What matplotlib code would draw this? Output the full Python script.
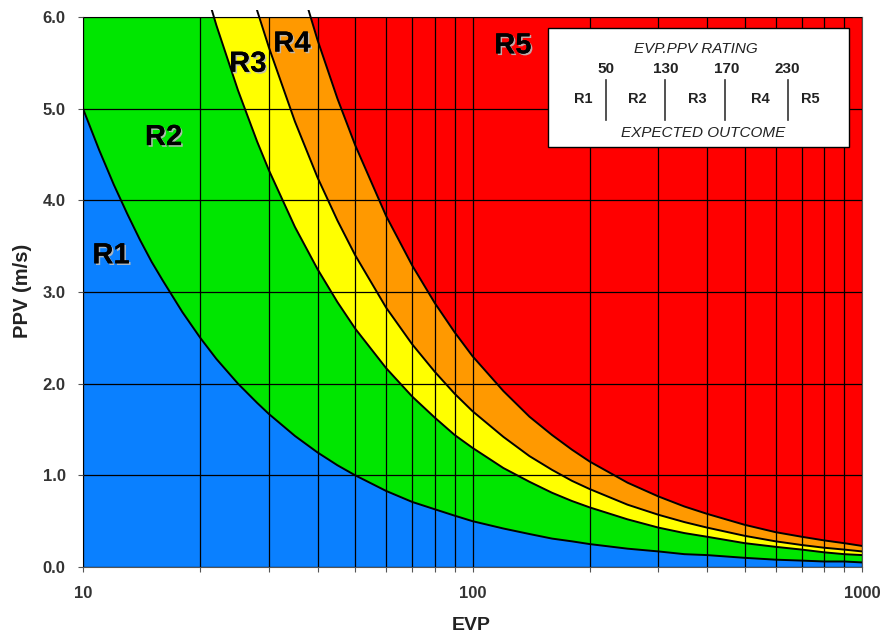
import matplotlib
matplotlib.use("Agg")
import matplotlib.pyplot as plt
import matplotlib.patheffects as pe
from matplotlib.patches import Rectangle
from matplotlib.ticker import FixedLocator, FixedFormatter, NullFormatter, FormatStrFormatter

plt.rcParams['font.family'] = ['Liberation Sans', 'DejaVu Sans']

# ---- data ----
evp = [10, 11, 12, 13, 14, 15, 16, 18, 20, 22, 25, 28, 30, 35, 40, 45, 50, 60, 70, 80, 90, 100,
       120, 140, 160, 180, 200, 250, 300, 350, 400, 500, 600, 700, 800, 900, 1000]
ppv_r50 = [5.0, 4.55, 4.17, 3.85, 3.57, 3.33, 3.13, 2.78, 2.5, 2.27, 2.0, 1.79, 1.67, 1.43, 1.25, 1.11,
           1.0, 0.83, 0.71, 0.63, 0.56, 0.5, 0.42, 0.36, 0.31, 0.28, 0.25, 0.2, 0.17, 0.14, 0.13,
           0.1, 0.08, 0.07, 0.06, 0.06, 0.05]
ppv_r130 = [13.0, 11.82, 10.83, 10.0, 9.29, 8.67, 8.13, 7.22, 6.5, 5.91, 5.2, 4.64, 4.33, 3.71, 3.25, 2.89,
            2.6, 2.17, 1.86, 1.63, 1.44, 1.3, 1.08, 0.93, 0.81, 0.72, 0.65, 0.52, 0.43, 0.37, 0.33,
            0.26, 0.22, 0.19, 0.16, 0.14, 0.13]
ppv_r170 = [17.0, 15.45, 14.17, 13.08, 12.14, 11.33, 10.63, 9.44, 8.5, 7.73, 6.8, 6.07, 5.67, 4.86, 4.25, 3.78,
            3.4, 2.83, 2.43, 2.13, 1.89, 1.7, 1.42, 1.21, 1.06, 0.94, 0.85, 0.68, 0.57, 0.49, 0.43,
            0.34, 0.28, 0.24, 0.21, 0.19, 0.17]
ppv_r230 = [23.0, 20.91, 19.17, 17.69, 16.43, 15.33, 14.38, 12.78, 11.5, 10.45, 9.2, 8.21, 7.67, 6.57, 5.75, 5.11,
            4.6, 3.83, 3.29, 2.88, 2.56, 2.3, 1.92, 1.64, 1.44, 1.28, 1.15, 0.92, 0.77, 0.66, 0.58,
            0.46, 0.38, 0.33, 0.29, 0.26, 0.23]

zone_names = ['R1', 'R2', 'R3', 'R4', 'R5']
zone_colors = ['#0A80FF', '#00E600', '#FFFF00', '#FF9900', '#FF0000']
zone_label_x = [11.8, 16.1, 26.5, 34.4, 127]
zone_label_y = [3.40, 4.69, 5.49, 5.71, 5.69]

ratings = ['50', '130', '170', '230']
x_major = [10, 100, 1000]
x_major_labels = ['10', '100', '1000']
x_minor = [20, 30, 40, 50, 60, 70, 80, 90, 200, 300, 400, 500, 600, 700, 800, 900]
y_ticks = [0, 1, 2, 3, 4, 5, 6]

# ---- figure ----
fig = plt.figure(figsize=(8.82, 6.4), dpi=100)
ax = fig.add_axes([83/882, 1-567/640, 779/882, 550/640])
ax.set_xscale('log')
ax.set_xlim(10, 1000)
ax.set_ylim(0, 6)
ax.set_facecolor(zone_colors[4])

boundaries = [ppv_r50, ppv_r130, ppv_r170, ppv_r230]
for b, c in zip(reversed(boundaries), [zone_colors[3], zone_colors[2], zone_colors[1], zone_colors[0]]):
    ax.fill_between(evp, 0, b, color=c, lw=0, zorder=1)
clip = Rectangle((0, 0), 1, 1.013, transform=ax.transAxes, fill=False)
for b in boundaries:
    ln, = ax.plot(evp, b, color='black', lw=1.4, zorder=3, solid_joinstyle='round')
    ln.set_clip_path(clip)

ax.set_axisbelow(False)
ax.xaxis.set_major_locator(FixedLocator(x_major))
ax.xaxis.set_major_formatter(FixedFormatter(x_major_labels))
ax.xaxis.set_minor_locator(FixedLocator(x_minor))
ax.xaxis.set_minor_formatter(NullFormatter())
ax.yaxis.set_major_locator(FixedLocator(y_ticks))
ax.yaxis.set_major_formatter(FormatStrFormatter('%.1f'))
ax.grid(True, which='both', color='black', lw=0.9)
ax.tick_params(axis='both', which='both', direction='out', length=3.5, width=0.8, color='#555555')
ax.tick_params(axis='x', which='major', pad=10.5, labelsize=12)
ax.tick_params(axis='y', which='major', pad=9, labelsize=12)
for lab in ax.get_xticklabels() + ax.get_yticklabels():
    lab.set_fontweight('bold')
    lab.set_color('#333333')
for s in ax.spines.values():
    s.set_color('#555555')
    s.set_linewidth(0.8)

ax.set_xlabel('EVP', fontsize=14, fontweight='bold', color='#222222')
ax.set_ylabel('PPV (m/s)', fontsize=14.5, fontweight='bold', color='#222222')
ax.xaxis.set_label_coords((471 - 83) / 779, (567 - 625) / 550)
ax.xaxis.label.set_va('center')
ax.yaxis.set_label_coords((23 - 83) / 779, (567 - 291) / 550)
ax.yaxis.label.set_va('center')

shadow = [pe.withSimplePatchShadow(offset=(1.2, -1.2), shadow_rgbFace='#bbbbbb', alpha=0.9), pe.Normal()]
for name, x, y in zip(zone_names, zone_label_x, zone_label_y):
    ax.text(x, y, name, fontsize=21, fontweight='bold', ha='center', va='center',
            zorder=6, path_effects=shadow)

# ---- legend box ----
px = lambda x: x / 882
py = lambda y: 1 - y / 640
box = Rectangle((px(548), py(147)), px(849) - px(548), py(28) - py(147),
                transform=fig.transFigure, facecolor='white', edgecolor='black', lw=1.0, zorder=10)
fig.patches.append(box)
fig.text(px(696), py(49), 'EVP.PPV RATING', style='italic', fontsize=11, ha='center', va='center',
         color='#222222', zorder=11)
fig.text(px(703), py(133), 'EXPECTED OUTCOME', style='italic', fontsize=11, ha='center', va='center',
         color='#222222', zorder=11)
for r, x in zip(ratings, [606, 666, 727, 787]):
    fig.text(px(x), py(69), r, fontsize=11, fontweight='bold', ha='center', va='center',
             color='#222222', zorder=11)
for n, x in zip(zone_names, [583, 637, 697, 760, 810]):
    fig.text(px(x), py(99), n, fontsize=10.5, fontweight='bold', ha='center', va='center',
             color='#222222', zorder=11)
for x in [606, 665, 725, 788]:
    fig.add_artist(plt.Line2D([px(x), px(x)], [py(80), py(120)], transform=fig.transFigure,
                              color='#333333', lw=1.2, zorder=11))

fig.savefig('out.png', dpi=100)
